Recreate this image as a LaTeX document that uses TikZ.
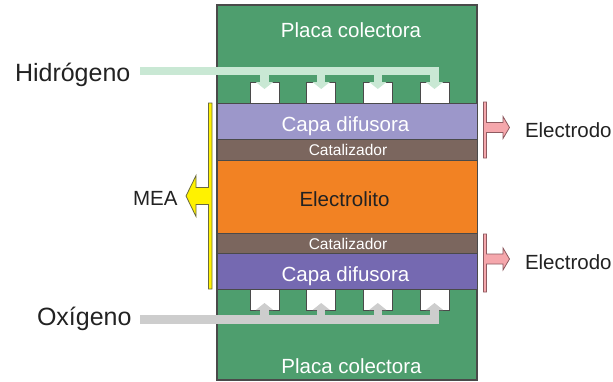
\documentclass[tikz,border=0pt]{standalone}
\usepackage{fontspec}
\setmainfont{Liberation Sans}
\usetikzlibrary{arrows.meta}
\definecolor{plategreen}{HTML}{4E9E6E}
\definecolor{difA}{HTML}{9C97CA}
\definecolor{difB}{HTML}{7569B1}
\definecolor{catbrown}{HTML}{7B665E}
\definecolor{elecorange}{HTML}{F28223}
\definecolor{hflow}{HTML}{C9E8D4}
\definecolor{oflow}{HTML}{CDCDCD}
\definecolor{edgegray}{HTML}{4A4A4A}
\definecolor{pinkfill}{HTML}{F5A7AC}
\definecolor{pinkedge}{HTML}{8E5A60}
\definecolor{meayellow}{HTML}{FFF200}
\definecolor{meaedge}{HTML}{6A6A40}
\definecolor{darktext}{HTML}{222222}
\tikzset{
  layer/.style={draw=edgegray, line width=0.8bp, inner sep=0pt, outer sep=0pt,
    anchor=north west, minimum width=260bp},
  chanbox/.style={draw=edgegray, line width=0.9bp, fill=white, inner sep=0pt, outer sep=0pt,
    anchor=north west, minimum width=29bp, minimum height=21bp},
  bigtxt/.style={inner sep=0pt, outer sep=0pt, font=\fontsize{20.5bp}{24bp}\selectfont},
  smalltxt/.style={inner sep=0pt, outer sep=0pt, font=\fontsize{15.5bp}{18bp}\selectfont},
  gastxt/.style={inner sep=0pt, outer sep=0pt, anchor=base west, text=darktext,
    font=\fontsize{25bp}{30bp}\selectfont},
  hflowline/.style={draw=hflow, line width=8.5bp, line join=miter,
    -{Triangle[width=17bp,length=7bp]}},
  oflowline/.style={draw=oflow, line width=8.5bp, line join=miter,
    -{Triangle[width=17bp,length=7bp]}},
  pinkshape/.style={fill=pinkfill, draw=pinkedge, line width=0.8bp},
  yellowshape/.style={fill=meayellow, draw=meaedge, line width=0.8bp},
}
\begin{document}
\begin{tikzpicture}[x=1bp,y=-1bp]
\useasboundingbox (0,0) rectangle (613,381);
\fill[white] (0,0) rectangle (613,381);

% collector plate
\node[layer, fill=plategreen, minimum height=375bp, line width=1.3bp] (plate) at (217,5) {};

% channels
\node[chanbox] (hb1) at (250,82) {};
\node[chanbox] (hb2) at (306.7,82) {};
\node[chanbox] (hb3) at (363.3,82) {};
\node[chanbox] (hb4) at (420,82) {};
\node[chanbox] (ob1) at (250,289) {};
\node[chanbox] (ob2) at (306.7,289) {};
\node[chanbox] (ob3) at (363.3,289) {};
\node[chanbox] (ob4) at (420,289) {};

% layers
\node[layer, fill=difA, minimum height=36bp] (cd1) at (217,103) {};
\node[layer, fill=catbrown, minimum height=21bp] (cat1) at (217,139) {};
\node[layer, fill=elecorange, minimum height=73bp] (ely) at (217,160) {};
\node[layer, fill=catbrown, minimum height=20bp] (cat2) at (217,233) {};
\node[layer, fill=difB, minimum height=36bp] (cd2) at (217,253) {};

% layer texts
\node[bigtxt, anchor=base, text=white] (tplt1) at (351,37) {Placa colectora};
\node[bigtxt, anchor=base, text=white] (tplt2) at (351.5,373) {Placa colectora};
\node[bigtxt, anchor=base, text=white] (tcd1) at (345.5,131) {Capa difusora};
\node[smalltxt, anchor=base, text=white] (tcat1) at (348,155) {Catalizador};
\node[bigtxt, anchor=base, text=darktext] (tely) at (344.5,206.5) {Electrolito};
\node[smalltxt, anchor=base, text=white] (tcat2) at (348,249.5) {Catalizador};
\node[bigtxt, anchor=base, text=white] (tcd2) at (345.5,281) {Capa difusora};

% gases
\node[gastxt] (h2) at (15,81) {Hidrógeno};
\node[gastxt] (o2) at (37,325) {Oxígeno};
\coordinate (h2s) at (140,71);
\coordinate (o2s) at (140,319.5);

\draw[hflowline] (h2s) -| ([yshift=-7bp]hb4.north);
\draw[hflowline] (hb1.center |- h2s) -- ([yshift=-7bp]hb1.north);
\draw[hflowline] (hb2.center |- h2s) -- ([yshift=-7bp]hb2.north);
\draw[hflowline] (hb3.center |- h2s) -- ([yshift=-7bp]hb3.north);

\draw[oflowline] (o2s) -| ([yshift=7bp]ob4.south);
\draw[oflowline] (ob1.center |- o2s) -- ([yshift=7bp]ob1.south);
\draw[oflowline] (ob2.center |- o2s) -- ([yshift=7bp]ob2.south);
\draw[oflowline] (ob3.center |- o2s) -- ([yshift=7bp]ob3.south);

% MEA bracket
\draw[yellowshape] (212,103) -- (212,289) -- (208.5,289) -- (208.5,204.5) -- (196,204.5)
  -- (196,216.5) -- (186,196) -- (196,175.5) -- (196,187.5) -- (208.5,187.5) -- (208.5,103) -- cycle;
\node[bigtxt, anchor=base west, text=darktext] (mea) at (133,205.5) {MEA};

% electrodes
\draw[pinkshape] (483.5,102) -- (483.5,158) -- (486.5,158) -- (486.5,132.5) -- (503,132.5)
  -- (503,138.5) -- (509.5,127.5) -- (503,116.5) -- (503,122.5) -- (486.5,122.5) -- (486.5,102) -- cycle;
\draw[pinkshape] (483.5,234) -- (483.5,292) -- (486.5,292) -- (486.5,264) -- (503,264)
  -- (503,270) -- (509.5,259) -- (503,248) -- (503,254) -- (486.5,254) -- (486.5,234) -- cycle;
\node[bigtxt, anchor=base west, text=darktext] (el1) at (525,137.5) {Electrodo};
\node[bigtxt, anchor=base west, text=darktext] (el2) at (525,269.5) {Electrodo};
\end{tikzpicture}
\end{document}
